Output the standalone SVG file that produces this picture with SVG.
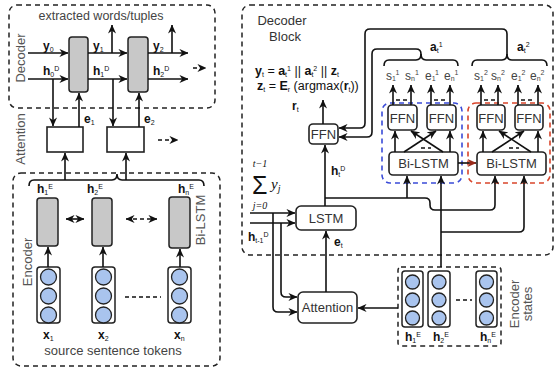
<svg xmlns="http://www.w3.org/2000/svg" width="555" height="369" viewBox="0 0 555 369">
<defs>
<marker id="ah" viewBox="0 0 10 10" refX="9.5" refY="5" markerWidth="9" markerHeight="9" markerUnits="userSpaceOnUse" orient="auto-start-reverse"><path d="M0,0.5 L10,5 L0,9.5 L3,5z" fill="#111"/></marker>
<marker id="ahr" viewBox="0 0 10 10" refX="9.5" refY="5" markerWidth="9" markerHeight="9" markerUnits="userSpaceOnUse" orient="auto"><path d="M0,0.5 L10,5 L0,9.5 L3,5z" fill="#9a2a1a"/></marker>
<style>
text{font-family:"Liberation Sans",Arial,sans-serif}
.ln{fill:none;stroke:#111;stroke-width:1.6}
.a{marker-end:url(#ah)}
.ab{marker-start:url(#ah);marker-end:url(#ah)}
.dsh{stroke-dasharray:4 3}
.grp{fill:none;stroke:#222;stroke-width:1.5;stroke-dasharray:5 4}
.box{fill:#fff;stroke:#222;stroke-width:1.6}
.cell{fill:#c8c8c8;stroke:#222;stroke-width:1.5}
.emb{fill:#fff;stroke:#222;stroke-width:1.5}
.c{fill:#a9c4ee;stroke:#222;stroke-width:1.3}
.v{font-weight:bold;font-size:12px;fill:#111}
.s{font-size:7px;font-weight:normal}
.lab{font-size:13px;fill:#555}
.bt{font-size:13px;fill:#333;text-anchor:middle}
.sl{font-size:12px;fill:#444}
.m{font-family:"Liberation Serif",serif;font-style:italic;fill:#111}
</style>
</defs>

<!-- LEFT: Decoder -->
<g id="decoder">
<rect class="grp" x="9" y="5" width="206" height="103" rx="8"/>
<text x="101" y="20" font-size="12.5" fill="#444" text-anchor="middle">extracted words/tuples</text>
<text transform="translate(25,58) rotate(-90)" class="lab" text-anchor="middle" fill="#777">Decoder</text>
<rect class="cell" x="69" y="37" width="19" height="55" rx="3"/>
<rect class="cell" x="128" y="37" width="20" height="55" rx="3"/>
</g>

<g id="attention-left">
<text transform="translate(25,139) rotate(-90)" class="lab" text-anchor="middle" fill="#777">Attention</text>
<rect class="box" x="47" y="127" width="36" height="25"/>
<rect class="box" x="107" y="127" width="37" height="25"/>
</g>

<g id="encoder">
<rect class="grp" x="13" y="173" width="207" height="193" rx="8"/>
<text transform="translate(32,262) rotate(-90)" class="lab" text-anchor="middle" fill="#777">Encoder</text>
<text transform="translate(205,220) rotate(-90)" class="lab" text-anchor="middle" fill="#777">Bi-LSTM</text>
<rect class="cell" x="37" y="198" width="21" height="48" rx="3"/>
<rect class="cell" x="92" y="198" width="20" height="48" rx="3"/>
<rect class="cell" x="169" y="197" width="21" height="51" rx="3"/>
<rect class="emb" x="37" y="267" width="23" height="56" rx="3"/>
<circle class="c" cx="48.5" cy="277" r="8"/><circle class="c" cx="48.5" cy="296" r="8"/><circle class="c" cx="48.5" cy="315" r="8"/>
<rect class="emb" x="92" y="267" width="23" height="56" rx="3"/>
<circle class="c" cx="103.5" cy="277" r="8"/><circle class="c" cx="103.5" cy="296" r="8"/><circle class="c" cx="103.5" cy="315" r="8"/>
<rect class="emb" x="168" y="267" width="23" height="56" rx="3"/>
<circle class="c" cx="179.5" cy="277" r="8"/><circle class="c" cx="179.5" cy="296" r="8"/><circle class="c" cx="179.5" cy="315" r="8"/>
<text class="v" x="37" y="193">h<tspan class="s" dy="2">1</tspan><tspan class="s" dy="-6">E</tspan></text>
<text class="v" x="87" y="193">h<tspan class="s" dy="2">2</tspan><tspan class="s" dy="-6">E</tspan></text>
<text class="v" x="178" y="193">h<tspan class="s" dy="2">n</tspan><tspan class="s" dy="-6">E</tspan></text>
<text class="v" x="43" y="339">x<tspan class="s" dy="2">1</tspan></text>
<text class="v" x="98" y="339">x<tspan class="s" dy="2">2</tspan></text>
<text class="v" x="174" y="339">x<tspan class="s" dy="2">n</tspan></text>
<text x="113" y="355" font-size="13" fill="#444" text-anchor="middle">source sentence tokens</text>
</g>

<!-- RIGHT: Decoder block -->
<g id="decoder-block">
<rect class="grp" x="242" y="5" width="311" height="250" rx="8"/>
<text x="282" y="25" class="bt" fill="#444">Decoder</text>
<text x="285" y="41" class="bt" fill="#444">Block</text>
<text x="255" y="75" font-size="12.5" fill="#111"><tspan font-weight="bold">y</tspan><tspan class="s" dy="2">t</tspan><tspan dy="-2"> = </tspan><tspan font-weight="bold">a</tspan><tspan class="s" dy="2">t</tspan><tspan class="s" dy="-6">1</tspan><tspan dy="4"> || </tspan><tspan font-weight="bold">a</tspan><tspan class="s" dy="2">t</tspan><tspan class="s" dy="-6">2</tspan><tspan dy="4"> || </tspan><tspan font-weight="bold">z</tspan><tspan class="s" dy="2">t</tspan></text>
<text x="257" y="90" font-size="12.5" fill="#111"><tspan font-weight="bold">z</tspan><tspan class="s" dy="2">t</tspan><tspan dy="-2"> = </tspan><tspan font-weight="bold">E</tspan><tspan class="s" dy="2">r</tspan><tspan dy="-2"> (argmax(</tspan><tspan font-weight="bold">r</tspan><tspan class="s" dy="2">t</tspan><tspan dy="-2">))</tspan></text>
<text x="252" y="194" font-family="Liberation Serif,serif" font-size="25" fill="#111">Σ</text>
<text x="260" y="167" class="m" font-size="10" text-anchor="middle">t−1</text>
<text x="260" y="208.5" class="m" font-size="10" text-anchor="middle">j=0</text>
<text x="271" y="189" class="m" font-size="15">y<tspan font-size="10" dy="3">j</tspan></text>
</g>

<g id="ffn-main">
<rect class="box" x="309" y="124" width="29" height="20" rx="4"/>
<text x="323.5" y="139" class="bt" font-size="12.5">FFN</text>
</g>

<g id="lstm">
<rect class="box" x="296" y="206" width="60" height="24" rx="5"/>
<text x="326" y="223" class="bt">LSTM</text>
</g>

<g id="attention-right">
<rect class="box" x="298" y="292" width="59" height="31" rx="5"/>
<text x="327.5" y="312" class="bt" font-size="12.5">Attention</text>
</g>

<g id="span-1">
<rect x="382" y="103" width="80" height="80" rx="8" fill="none" stroke="#3a4bd8" stroke-width="1.6" stroke-dasharray="5 4"/>
<rect class="box" x="388" y="105" width="29" height="25" rx="4"/>
<text x="402.5" y="123" class="bt">FFN</text>
<rect class="box" x="427" y="105" width="29" height="25" rx="4"/>
<text x="441.5" y="123" class="bt">FFN</text>
<rect class="box" x="389" y="152" width="69" height="23" rx="4"/>
<text x="423.5" y="168" class="bt">Bi-LSTM</text>
</g>

<g id="span-2">
<rect x="468" y="103" width="82" height="80" rx="8" fill="none" stroke="#d9452b" stroke-width="1.6" stroke-dasharray="5 4"/>
<rect class="box" x="477" y="105" width="28" height="25" rx="4"/>
<text x="491" y="123" class="bt">FFN</text>
<rect class="box" x="515" y="105" width="28" height="25" rx="4"/>
<text x="529" y="123" class="bt">FFN</text>
<rect class="box" x="477" y="152" width="69" height="23" rx="4"/>
<text x="511.5" y="168" class="bt">Bi-LSTM</text>
</g>

<g id="encoder-states">
<rect class="grp" x="398" y="267" width="103" height="79" rx="3"/>
<rect class="emb" x="402" y="271" width="21" height="56" rx="3"/>
<circle class="c" cx="412.5" cy="282" r="7"/><circle class="c" cx="412.5" cy="300" r="7"/><circle class="c" cx="412.5" cy="318" r="7"/>
<rect class="emb" x="428" y="271" width="22" height="56" rx="3"/>
<circle class="c" cx="439" cy="282" r="7"/><circle class="c" cx="439" cy="300" r="7"/><circle class="c" cx="439" cy="318" r="7"/>
<rect class="emb" x="476" y="271" width="21" height="56" rx="3"/>
<circle class="c" cx="486.5" cy="282" r="7"/><circle class="c" cx="486.5" cy="300" r="7"/><circle class="c" cx="486.5" cy="318" r="7"/>
<path class="ln dsh" d="M456,300 H472"/>
<text class="v" x="405" y="341">h<tspan class="s" dy="2">1</tspan><tspan class="s" dy="-6">E</tspan></text>
<text class="v" x="433" y="341">h<tspan class="s" dy="2">2</tspan><tspan class="s" dy="-6">E</tspan></text>
<text class="v" x="480" y="341">h<tspan class="s" dy="2">n</tspan><tspan class="s" dy="-6">E</tspan></text>
<text transform="translate(519,304) rotate(-90)" class="lab" text-anchor="middle" fill="#777">Encoder</text>
<text transform="translate(532,304) rotate(-90)" class="lab" text-anchor="middle" fill="#777">states</text>
</g>

<g id="connectors">
<!-- left decoder -->
<path class="ln a" d="M28,53 H68"/>
<path class="ln a" d="M28,79 H68"/>
<path class="ln a" d="M88,53 H127"/>
<path class="ln a" d="M112,53 V25"/>
<path class="ln a" d="M88,79 H127"/>
<path class="ln a" d="M148,53 H188"/>
<path class="ln a" d="M172,53 V25"/>
<path class="ln a" d="M148,79 H188"/>
<path class="ln a dsh" d="M193,68 H206"/>
<path class="ln a" d="M53,79 V126"/>
<path class="ln a" d="M79,127 V93"/>
<path class="ln a" d="M113,79 V126"/>
<path class="ln a" d="M139,127 V93"/>
<path class="ln a dsh" d="M158,140 H178"/>
<path class="ln" d="M29,186 Q29,180 34,180 H112 Q117,180 117,174 Q117,180 122,180 H199 Q204,180 204,186"/>
<path class="ln a" d="M65,180 V153"/>
<path class="ln a" d="M126,180 V153"/>
<path class="ln ab" d="M66,219 H84"/>
<path class="ln ab dsh" d="M126,219 H157"/>
<path class="ln dsh" d="M125,297 H161" stroke-dasharray="6 3"/>
<path class="ln a" d="M48,267 V247"/>
<path class="ln a" d="M103,267 V247"/>
<path class="ln a" d="M180,267 V249"/>
<!-- right -->
<path class="ln a" d="M323,124 V100"/>
<path class="ln a" d="M325,206 V145"/>
<path class="ln a" d="M507,56 V34 Q507,29 502,29 H370 Q365,29 365,34 V123 Q365,128 360,128 H339"/>
<path class="ln a" d="M421,56 V54 Q421,49 416,49 H377 Q372,49 372,54 V132 Q372,137 367,137 H339"/>
<path class="ln" d="M384,66 Q384,60 389,60 H416 Q421,60 421,54 Q421,60 426,60 H453 Q458,60 458,66"/>
<path class="ln" d="M472,66 Q472,60 477,60 H502 Q507,60 507,54 Q507,60 512,60 H542 Q547,60 547,66"/>
<path class="ln a" d="M393,105 V85"/><path class="ln a" d="M411,105 V85"/>
<path class="ln a" d="M431,105 V85"/><path class="ln a" d="M450,105 V85"/>
<path class="ln a" d="M481,105 V85"/><path class="ln a" d="M498,105 V85"/>
<path class="ln a" d="M518,105 V85"/><path class="ln a" d="M538,105 V85"/>
<path class="ln dsh" d="M396,100 H408 M434,100 H447 M484,100 H495 M521,100 H535"/>
<path class="ln a" d="M395,152 V131"/><path class="ln a" d="M450,152 V131"/>
<path class="ln a" d="M404,152 L436,131"/><path class="ln a" d="M443,152 L411,131"/>
<path class="ln dsh" d="M421,148 H431"/>
<path class="ln a" d="M483,152 V131"/><path class="ln a" d="M538,152 V131"/>
<path class="ln a" d="M492,152 L524,131"/><path class="ln a" d="M531,152 L499,131"/>
<path class="ln dsh" d="M509,148 H519"/>
<path class="ln" d="M458,163 H476" marker-end="url(#ahr)"/>
<path class="ln" d="M325,198 H425 Q430,198 430,203 V205 Q430,210 435,210 H490 Q495,210 495,205 V176" marker-end="url(#ah)"/>
<path class="ln a" d="M407,198 V176"/>
<path class="ln a" d="M441,267 V176"/>
<path class="ln a" d="M441,232 H519 Q524,232 524,227 V176"/>
<path class="ln a" d="M250,213 H295"/>
<path class="ln a" d="M250,223 H295"/>
<path class="ln a" d="M273,213 V307 Q273,312 278,312 H297"/>
<path class="ln a" d="M281,223 V292 Q281,297 286,297 H297"/>
<path class="ln a" d="M326,292 V231"/>
<path class="ln a" d="M398,308 H358"/>
</g>

<g id="labels">
<text class="v" x="43" y="50">y<tspan class="s" dy="2">0</tspan></text>
<text class="v" x="43" y="75">h<tspan class="s" dy="2">0</tspan><tspan class="s" dy="-6">D</tspan></text>
<text class="v" x="93" y="50">y<tspan class="s" dy="2">1</tspan></text>
<text class="v" x="93" y="75">h<tspan class="s" dy="2">1</tspan><tspan class="s" dy="-6">D</tspan></text>
<text class="v" x="153" y="50">y<tspan class="s" dy="2">2</tspan></text>
<text class="v" x="153" y="75">h<tspan class="s" dy="2">2</tspan><tspan class="s" dy="-6">D</tspan></text>
<text class="v" x="84" y="123">e<tspan class="s" dy="2">1</tspan></text>
<text class="v" x="144" y="123">e<tspan class="s" dy="2">2</tspan></text>
<text class="v" x="292" y="110">r<tspan class="s" dy="2">t</tspan></text>
<text class="v" x="331" y="175">h<tspan class="s" dy="2">t</tspan><tspan class="s" dy="-6">D</tspan></text>
<text class="v" x="248" y="241">h<tspan class="s" dy="2">t-1</tspan><tspan class="s" dy="-6">D</tspan></text>
<text class="v" x="334" y="246">e<tspan class="s" dy="2">t</tspan></text>
<text class="v" x="430" y="51">a<tspan class="s" dy="2">t</tspan><tspan class="s" dy="-6">1</tspan></text>
<text class="v" x="517" y="51">a<tspan class="s" dy="2">t</tspan><tspan class="s" dy="-6">2</tspan></text>
<text class="sl" x="386" y="80">s<tspan class="s" dy="1">1</tspan><tspan class="s" dy="-6">1</tspan></text>
<text class="sl" x="405" y="80">s<tspan class="s" dy="1">n</tspan><tspan class="s" dy="-6">1</tspan></text>
<text class="sl" x="425" y="80">e<tspan class="s" dy="1">1</tspan><tspan class="s" dy="-6">1</tspan></text>
<text class="sl" x="444" y="80">e<tspan class="s" dy="1">n</tspan><tspan class="s" dy="-6">1</tspan></text>
<text class="sl" x="474" y="80">s<tspan class="s" dy="1">1</tspan><tspan class="s" dy="-6">2</tspan></text>
<text class="sl" x="491" y="80">s<tspan class="s" dy="1">n</tspan><tspan class="s" dy="-6">2</tspan></text>
<text class="sl" x="511" y="80">e<tspan class="s" dy="1">1</tspan><tspan class="s" dy="-6">2</tspan></text>
<text class="sl" x="530" y="80">e<tspan class="s" dy="1">n</tspan><tspan class="s" dy="-6">2</tspan></text>
</g>
</svg>
